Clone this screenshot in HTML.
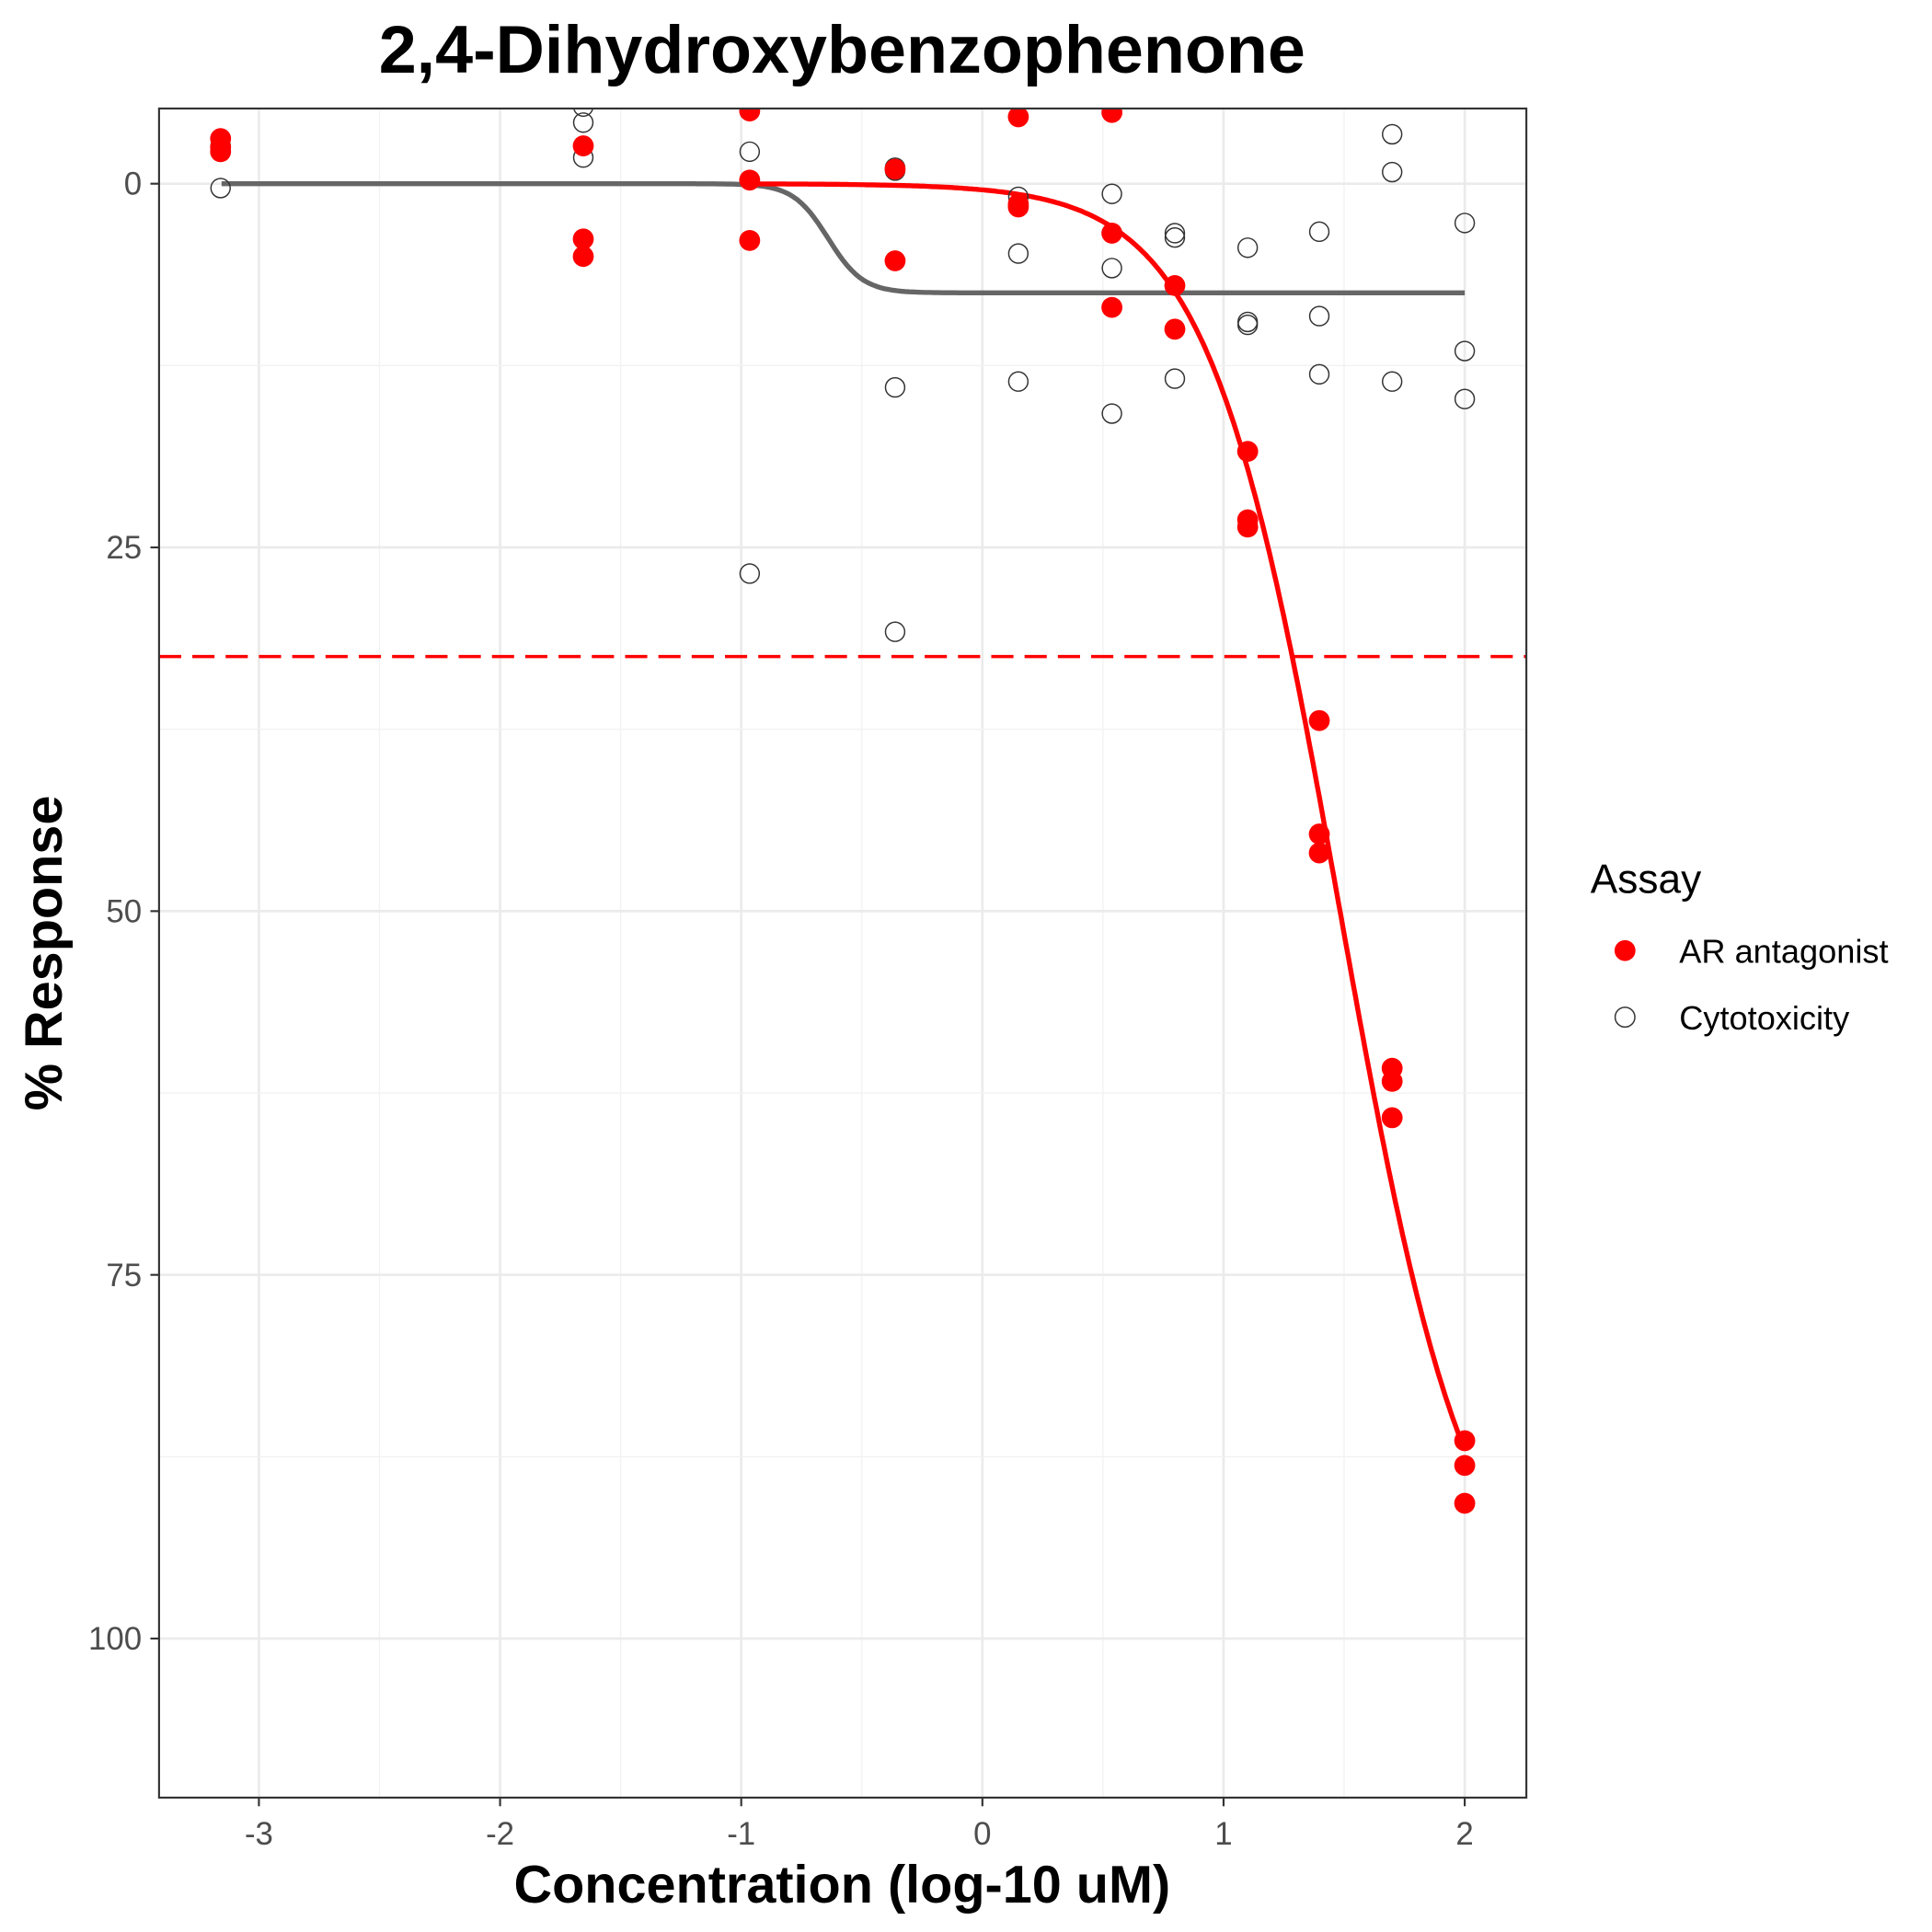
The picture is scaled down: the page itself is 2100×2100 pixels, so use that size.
<!DOCTYPE html>
<html><head><meta charset="utf-8"><style>
html,body{margin:0;padding:0;background:#fff}
svg{display:block;font-family:"Liberation Sans",Arial,sans-serif}
</style></head><body>
<svg id="chart" width="2100" height="2100" viewBox="0 0 1567 1567" xmlns="http://www.w3.org/2000/svg">
<rect width="1567" height="1567" fill="#fff"/>
<g id="grid"></g>
<g id="marks"></g>
<rect x="129" y="88" width="1109" height="1370" fill="none" stroke="#333" stroke-width="1.6"/>
<g id="axes"></g>
<text x="683" y="59" text-anchor="middle" font-size="55" font-weight="bold">2,4-Dihydroxybenzophenone</text>
<text x="683" y="1543" text-anchor="middle" font-size="43" font-weight="bold">Concentration (log-10 uM)</text>
<text transform="translate(50,773) rotate(-90)" text-anchor="middle" font-size="43" font-weight="bold">% Response</text>
<g>
<text x="1290" y="724" font-size="33">Assay</text>
<circle cx="1318" cy="771" r="8.5" fill="#ff0000"/>
<text x="1362" y="781" font-size="27">AR antagonist</text>
<circle cx="1318" cy="825" r="8" fill="none" stroke="#333" stroke-width="1.1"/>
<text x="1362" y="835" font-size="27">Cytotoxicity</text>
</g>
</svg>
<script>
const xTicks = [-3,-2,-1,0,1,2];
const yTicks = [0,25,50,75,100];
const cutoff = 32.5;
const arX = [-3.159,-3.159,-3.159,-1.655,-1.655,-1.655,-0.965,-0.965,-0.965,-0.362,-0.362,0.149,0.149,0.149,0.537,0.537,0.537,0.798,0.798,1.1,1.1,1.1,1.397,1.397,1.397,1.699,1.699,1.699,2.0,2.0,2.0];
const arY = [-3.1,-2.5,-2.2,-2.6,3.8,5.0,-5.0,-0.25,3.9,-1.0,5.3,-4.6,1.4,1.6,-4.9,3.4,8.5,7.0,10.0,18.4,23.1,23.6,36.9,44.7,46.0,60.8,61.7,64.2,86.4,88.1,90.7];
const cyX = [-3.159,-3.159,-3.159,-1.655,-1.655,-1.655,-0.965,-0.965,-0.362,-0.362,-0.362,-0.362,0.149,0.149,0.149,0.537,0.537,0.537,0.798,0.798,0.798,1.1,1.1,1.1,1.397,1.397,1.397,1.699,1.699,1.699,2.0,2.0,2.0];
const cyY = [-2.6,-2.2,0.3,-5.3,-4.2,-1.8,-2.2,26.8,-1.1,-0.9,14.0,30.8,0.9,4.8,13.6,0.7,5.8,15.8,3.4,3.7,13.4,4.4,9.5,9.7,3.3,9.1,13.1,-3.4,-0.8,13.6,2.7,11.5,14.8];
const arFit = [100, 1.483, 1.6, -0.965, 2.0];   // top, ac50, hill, xmin, xmax
const cyFit = [7.5, -0.64, 6.0, -3.155, 2.0];

const NS = "http://www.w3.org/2000/svg";
const X0 = 796.8, XS = 195.6, Y0 = 149, YS = 11.8;
const PL = 129, PR = 1238, PT = 88, PB = 1458;
const sx = v => X0 + v * XS;
const sy = v => Y0 + v * YS;
function mk(tag, attrs, parent){const e=document.createElementNS(NS,tag);for(const k in attrs)e.setAttribute(k,attrs[k]);parent.appendChild(e);return e;}
const grid = document.getElementById('grid'), marks = document.getElementById('marks'), axes = document.getElementById('axes');

for (let i=0;i<xTicks.length;i++){
  const v=xTicks[i];
  const l=mk('line',{x1:sx(v),x2:sx(v),y1:PT,y2:PB,stroke:'#ebebeb','stroke-width':2},grid);
  
  
  if(i<xTicks.length-1){
    const m=mk('line',{x1:sx(v+0.5),x2:sx(v+0.5),y1:PT,y2:PB,stroke:'#f2f2f2','stroke-width':1},grid);
    
    
  }
  const t=mk('line',{x1:sx(v),x2:sx(v),y1:PB,y2:PB+7,stroke:'#333','stroke-width':1.6},axes);
  
  
  const tx=mk('text',{x:sx(v),y:PB+38,'text-anchor':'middle','font-size':26,fill:'#4d4d4d'},axes);
  tx.textContent=String(v);
  
  
}
for (let i=0;i<yTicks.length;i++){
  const v=yTicks[i];
  const l=mk('line',{x1:PL,x2:PR,y1:sy(v),y2:sy(v),stroke:'#ebebeb','stroke-width':2},grid);
  
  
  if(i<yTicks.length-1){
    const m=mk('line',{x1:PL,x2:PR,y1:sy(v+12.5),y2:sy(v+12.5),stroke:'#f2f2f2','stroke-width':1},grid);
    
    
  }
  const t=mk('line',{x1:PL-7,x2:PL,y1:sy(v),y2:sy(v),stroke:'#333','stroke-width':1.6},axes);
  
  
  const tx=mk('text',{x:PL-14,y:sy(v)+9,'text-anchor':'end','font-size':26,fill:'#4d4d4d'},axes);
  tx.textContent=String(v);
  
  
}

const cut=mk('line',{x1:PL,x2:PR,y1:sy(cutoff),y2:sy(cutoff),stroke:'#ff0000','stroke-width':2.6,'stroke-dasharray':'18 9'},marks);



function hill(p,x){return p[0]/(1+Math.pow(10,p[2]*(p[1]-x)));}
function curve(p,color,name){
  let d='';
  for(let i=0;i<=300;i++){const x=p[3]+(p[4]-p[3])*i/300;d+=(i?'L':'M')+sx(x).toFixed(1)+' '+sy(hill(p,x)).toFixed(1);}
  const e=mk('path',{d:d,fill:'none',stroke:color,'stroke-width':4,'stroke-linejoin':'round'},marks);
  
  
}
curve(cyFit,'#666666','cytotoxicity-fit-curve');
curve(arFit,'#ff0000','ar-antagonist-fit-curve');

const clip=mk('clipPath',{id:'pc'},document.getElementById('chart'));
mk('rect',{x:PL,y:PT,width:PR-PL,height:PB-PT},clip);
const pts=mk('g',{'clip-path':'url(#pc)'},marks);
for(let i=0;i<cyX.length;i++){
  const c=mk('circle',{cx:sx(cyX[i]),cy:sy(cyY[i]),r:7.8,fill:'none',stroke:'#333','stroke-width':1.1},pts);
  
  
}
for(let i=0;i<arX.length;i++){
  const c=mk('circle',{cx:sx(arX[i]),cy:sy(arY[i]),r:8.5,fill:'#ff0000'},pts);
  
  
}
</script>
</body></html>
